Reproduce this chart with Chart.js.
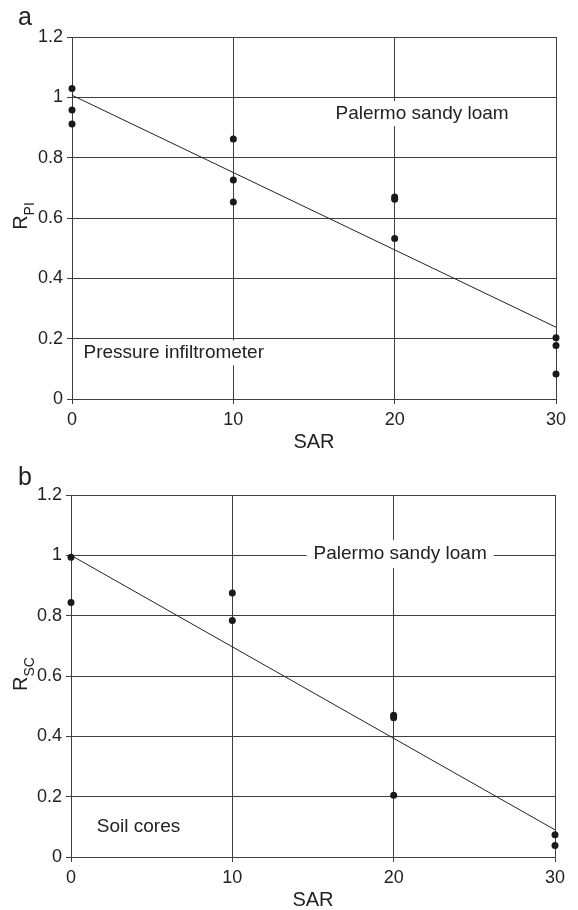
<!DOCTYPE html>
<html>
<head>
<meta charset="utf-8">
<script src="https://cdn.jsdelivr.net/npm/chart.js@4.4.1/dist/chart.umd.min.js"></script>
<style>
  html, body { margin: 0; padding: 0; background: #fff; }
  canvas { display: block; }
</style>
</head>
<body>
<canvas id="chartA" width="578" height="455"></canvas>
<canvas id="chartB" width="578" height="455"></canvas>
<script>
// panel a - pressure infiltrometer
const sarA = [0, 0, 0, 10, 10, 10, 20, 20, 20, 30, 30, 30];
const rpiA = [1.029, 0.958, 0.912, 0.862, 0.726, 0.653, 0.670, 0.662, 0.532, 0.203, 0.177, 0.083];
const fitSarA = [0, 30];
const fitA = [1.007, 0.238];

// panel b - soil cores
const sarB = [0, 0, 10, 10, 20, 20, 20, 30, 30];
const rscB = [0.994, 0.844, 0.875, 0.784, 0.470, 0.462, 0.205, 0.074, 0.038];
const fitSarB = [0, 30];
const fitB = [1.0, 0.09];

// ticks
const sarTicks = [0, 10, 20, 30];
const rTicks = [0, 0.2, 0.4, 0.6, 0.8, 1, 1.2];

const FONT = '"Liberation Sans", Arial, Helvetica, sans-serif';
const INK = '#222';
const LINE = '#3f3f3f';

Chart.defaults.font.family = FONT;
Chart.defaults.color = INK;

// notes, panel letter and y title with subscript
function sketchPlugin(cfg) {
  return {
    id: 'sketch',
    beforeDatasetsDraw(chart) {
      const ctx = chart.ctx;
      const x = chart.scales.x, y = chart.scales.y;
      ctx.save();
      ctx.font = '19px ' + FONT;
      ctx.textBaseline = 'middle';
      ctx.textAlign = 'left';
      cfg.notes.forEach(n => {
        const px = x.getPixelForValue(n.x);
        const py = y.getPixelForValue(n.y);
        const w = ctx.measureText(n.text).width;
        const left = n.align === 'center' ? px - w / 2 : px;
        ctx.fillStyle = '#fff';
        ctx.fillRect(left - 7, py - n.h / 2, w + 14, n.h);
        ctx.fillStyle = INK;
        ctx.fillText(n.text, left, py);
      });
      ctx.restore();
    },
    afterDraw(chart) {
      const ctx = chart.ctx;
      const area = chart.chartArea;
      ctx.save();
      ctx.fillStyle = INK;
      ctx.textAlign = 'left';
      ctx.textBaseline = 'alphabetic';
      ctx.font = '25px ' + FONT;
      ctx.fillText(cfg.letter, 18, cfg.letterY);

      const cy = (area.top + area.bottom) / 2 - 2;
      ctx.font = '20px ' + FONT;
      const wR = ctx.measureText('R').width;
      ctx.font = '14px ' + FONT;
      const wS = ctx.measureText(cfg.sub).width;
      ctx.translate(27, cy + (wR + wS) / 2);
      ctx.rotate(-Math.PI / 2);
      ctx.font = '20px ' + FONT;
      ctx.fillText('R', 0, 0);
      ctx.font = '14px ' + FONT;
      ctx.fillText(cfg.sub, wR, 7);
      ctx.restore();
    }
  };
}

function makeChart(id, xs, ys, fx, fy, cfg) {
  const grid = { color: LINE, lineWidth: 1, drawTicks: true, tickLength: 5, tickColor: LINE };
  const border = { display: true, color: LINE, width: 1 };
  return new Chart(document.getElementById(id), {
    type: 'scatter',
    data: {
      datasets: [
        {
          data: xs.map((v, i) => ({ x: v, y: ys[i] })),
          pointRadius: 3.5,
          pointBackgroundColor: '#1a1a1a',
          pointBorderColor: '#1a1a1a',
          pointBorderWidth: 0,
          clip: false
        },
        {
          data: fx.map((v, i) => ({ x: v, y: fy[i] })),
          showLine: true,
          borderColor: INK,
          borderWidth: 1,
          pointRadius: 0,
          clip: false
        }
      ]
    },
    options: {
      responsive: false,
      animation: false,
      devicePixelRatio: 1,
      layout: { padding: { top: cfg.top, right: cfg.right, left: 0, bottom: 0 } },
      plugins: { legend: { display: false }, tooltip: { enabled: false } },
      scales: {
        x: {
          type: 'linear',
          min: 0,
          max: 30,
          afterBuildTicks: s => { s.ticks = sarTicks.map(v => ({ value: v })); },
          afterFit: s => { s.height = cfg.xh; },
          grid: grid,
          border: border,
          ticks: { font: { size: 18 }, padding: 5, maxRotation: 0, autoSkip: false, color: INK },
          title: {
            display: true,
            text: 'SAR',
            color: INK,
            font: { size: 20, lineHeight: 1 },
            padding: { top: 0, bottom: cfg.titlePad }
          }
        },
        y: {
          type: 'linear',
          min: 0,
          max: 1.2,
          afterBuildTicks: s => { s.ticks = rTicks.map(v => ({ value: v })); },
          afterFit: s => { s.width = cfg.yw; },
          grid: grid,
          border: border,
          ticks: { font: { size: 18 }, padding: 4, autoSkip: false, color: INK, callback: v => String(v) }
        }
      }
    },
    plugins: [sketchPlugin(cfg)]
  });
}

makeChart('chartA', sarA, rpiA, fitSarA, fitA, {
  top: 37, right: 22, yw: 72, xh: 56, titlePad: 3,
  letter: 'a', letterY: 25, sub: 'PI',
  notes: [
    { text: 'Palermo sandy loam', x: 21.7, y: 0.946, align: 'center', h: 25 },
    { text: 'Pressure infiltrometer', x: 0.71, y: 0.153, align: 'left', h: 25 }
  ]
});

makeChart('chartB', sarB, rscB, fitSarB, fitB, {
  top: 40, right: 23, yw: 71, xh: 53, titlePad: 0,
  letter: 'b', letterY: 30, sub: 'SC',
  notes: [
    { text: 'Palermo sandy loam', x: 20.4, y: 1.005, align: 'center', h: 28 },
    { text: 'Soil cores', x: 1.6, y: 0.101, align: 'left', h: 25 }
  ]
});
</script>
</body>
</html>
